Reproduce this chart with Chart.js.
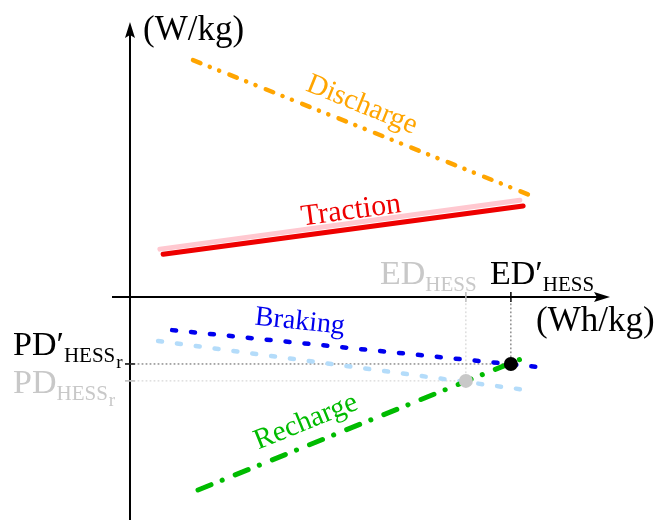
<!DOCTYPE html>
<html>
<head>
<meta charset="utf-8">
<script src="https://cdn.jsdelivr.net/npm/chart.js@4/dist/chart.umd.min.js"></script>
<style>
  html, body { margin: 0; padding: 0; background: #fff; }
  #wrap { width: 661px; height: 520px; }
</style>
</head>
<body>
<div id="wrap"><canvas id="chart"></canvas></div>
<script>
// visible window, axes cross at (0,0)
const xRange = [-3.611, 14.75];
const yRange = [-6.194, 8.25];

// schematic curves (x: Wh/kg, y: W/kg, arbitrary units)
const dischargeX = [1.75, 11.11];
const dischargeY = [6.58, 2.83];
const tractionX = [0.92, 10.92];
const tractionY = [1.19, 2.53];
const tractionOldX = [0.83, 10.83];
const tractionOldY = [1.33, 2.69];
const brakingX = [1.17, 11.31];
const brakingY = [-0.92, -1.94];
const brakingOldX = [0.78, 10.83];
const brakingOldY = [-1.22, -2.56];
const rechargeX = [1.89, 11.06];
const rechargeY = [-5.36, -1.64];

// operating points
const edNew = 10.58, pdNew = -1.86;
const edOld = 9.33, pdOld = -2.33;

const pts = (xs, ys) => xs.map((x, i) => ({ x: x, y: ys[i] }));

const FONT = "'Liberation Serif', 'DejaVu Serif', serif";

function line(data, color, width, dash) {
  return {
    data: data,
    showLine: true,
    borderColor: color,
    borderWidth: width,
    borderDash: dash || [],
    borderCapStyle: "round",
    pointRadius: 0,
    fill: false
  };
}

// text with subscript (and optional sub-subscript)
function subText(ctx, x, y, main, sub, subsub, color) {
  ctx.fillStyle = color;
  ctx.textAlign = "left";
  ctx.textBaseline = "alphabetic";
  ctx.font = "34px " + FONT;
  ctx.fillText(main, x, y);
  let w = ctx.measureText(main).width;
  ctx.font = "21px " + FONT;
  ctx.fillText(sub, x + w, y + 7);
  let w2 = ctx.measureText(sub).width;
  if (subsub) {
    ctx.font = "19px " + FONT;
    ctx.fillText(subsub, x + w + w2 + 1, y + 13);
  }
}

function rotText(ctx, txt, x, y, deg, color, size) {
  ctx.save();
  ctx.translate(x, y);
  ctx.rotate(deg * Math.PI / 180);
  ctx.fillStyle = color;
  ctx.font = size + "px " + FONT;
  ctx.textAlign = "center";
  ctx.textBaseline = "middle";
  ctx.fillText(txt, 0, 0);
  ctx.restore();
}

const schematic = {
  id: "schematic",
  beforeDatasetsDraw(chart) {
    const ctx = chart.ctx;
    const sx = chart.scales.x, sy = chart.scales.y;
    const x0 = sx.getPixelForValue(0), y0 = sy.getPixelForValue(0);
    ctx.save();
    ctx.strokeStyle = "#000";
    ctx.fillStyle = "#000";
    ctx.lineWidth = 2;
    // y axis
    ctx.beginPath();
    ctx.moveTo(x0, chart.height);
    ctx.lineTo(x0, 30);
    ctx.stroke();
    ctx.beginPath();
    ctx.moveTo(x0, 22);
    ctx.lineTo(x0 - 5, 38);
    ctx.lineTo(x0, 35);
    ctx.lineTo(x0 + 5, 38);
    ctx.closePath();
    ctx.fill();
    // x axis
    ctx.beginPath();
    ctx.moveTo(112, y0);
    ctx.lineTo(602, y0);
    ctx.stroke();
    ctx.beginPath();
    ctx.moveTo(610, y0);
    ctx.lineTo(594, y0 - 5);
    ctx.lineTo(597, y0);
    ctx.lineTo(594, y0 + 5);
    ctx.closePath();
    ctx.fill();
    // ticks
    ctx.lineWidth = 1.5;
    [[edNew, "#000"], [edOld, "#bbb"]].forEach(([v, c]) => {
      const p = sx.getPixelForValue(v);
      ctx.strokeStyle = c;
      ctx.beginPath(); ctx.moveTo(p, y0 - 5); ctx.lineTo(p, y0 + 5); ctx.stroke();
    });
    [[pdNew, "#000"], [pdOld, "#bbb"]].forEach(([v, c]) => {
      const p = sy.getPixelForValue(v);
      ctx.strokeStyle = c;
      ctx.beginPath(); ctx.moveTo(x0 - 5, p); ctx.lineTo(x0 + 5, p); ctx.stroke();
    });
    ctx.restore();
  },
  afterDatasetsDraw(chart) {
    const ctx = chart.ctx;
    const sx = chart.scales.x, sy = chart.scales.y;
    const X = v => sx.getPixelForValue(v), Y = v => sy.getPixelForValue(v);
    ctx.save();
    // axis titles
    ctx.fillStyle = "#000";
    ctx.font = "35px " + FONT;
    ctx.textAlign = "left";
    ctx.textBaseline = "alphabetic";
    ctx.fillText("(W/kg)", 143, 40);
    ctx.fillText("(Wh/kg)", 536, 331);
    // curve labels
    rotText(ctx, "Discharge", X(6.44), Y(5.33), 22, "#FFA500", 29);
    rotText(ctx, "Traction", X(6.14), Y(2.39), -7.6, "#EE0000", 30);
    rotText(ctx, "Braking", X(4.72), Y(-0.69), 6, "#0000EE", 28);
    rotText(ctx, "Recharge", X(4.89), Y(-3.47), -22, "#00BB00", 29);
    // point labels
    subText(ctx, 380, 284, "ED", "HESS", null, "#c8c8c8");
    subText(ctx, 490, 284, "ED\u2032", "HESS", null, "#000");
    subText(ctx, 13, 355, "PD\u2032", "HESS", "r", "#000");
    subText(ctx, 13, 393, "PD", "HESS", "r", "#c8c8c8");
    ctx.restore();
  }
};

const ctx = document.getElementById("chart").getContext("2d");
new Chart(ctx, {
  type: "scatter",
  data: {
    datasets: [
      {
        data: [{ x: edNew, y: pdNew }],
        pointRadius: 7, pointBackgroundColor: "#000", pointBorderWidth: 0
      },
      {
        data: [{ x: edOld, y: pdOld }],
        pointRadius: 7, pointBackgroundColor: "#c8c8c8", pointBorderWidth: 0
      },
      line(pts(dischargeX, dischargeY), "#FFA500", 4.5, [8, 10, 0.1, 10, 0.1, 11]),
      line(pts(tractionX, tractionY), "#EE0000", 5),
      line(pts(tractionOldX, tractionOldY), "#FFC8D0", 5),
      line(pts(rechargeX, rechargeY), "#00BB00", 5, [14, 12, 0.1, 14]),
      line(pts(brakingX, brakingY), "#0000EE", 4.5, [4, 15]),
      line(pts(brakingOldX, brakingOldY), "#B4DCFA", 4.5, [4, 15]),
      // guide lines to the operating points
      line([{ x: 0, y: pdNew }, { x: edNew, y: pdNew }, { x: edNew, y: 0 }], "#555", 1, [1, 3]),
      line([{ x: 0, y: pdOld }, { x: edOld, y: pdOld }, { x: edOld, y: 0 }], "#ccc", 1, [1, 3])
    ]
  },
  options: {
    responsive: true,
    maintainAspectRatio: false,
    animation: false,
    events: [],
    layout: { padding: 0, autoPadding: false },
    plugins: { legend: { display: false }, tooltip: { enabled: false } },
    scales: {
      x: { type: "linear", min: xRange[0], max: xRange[1], display: false },
      y: { type: "linear", min: yRange[0], max: yRange[1], display: false }
    }
  },
  plugins: [schematic]
});
</script>
</body>
</html>
